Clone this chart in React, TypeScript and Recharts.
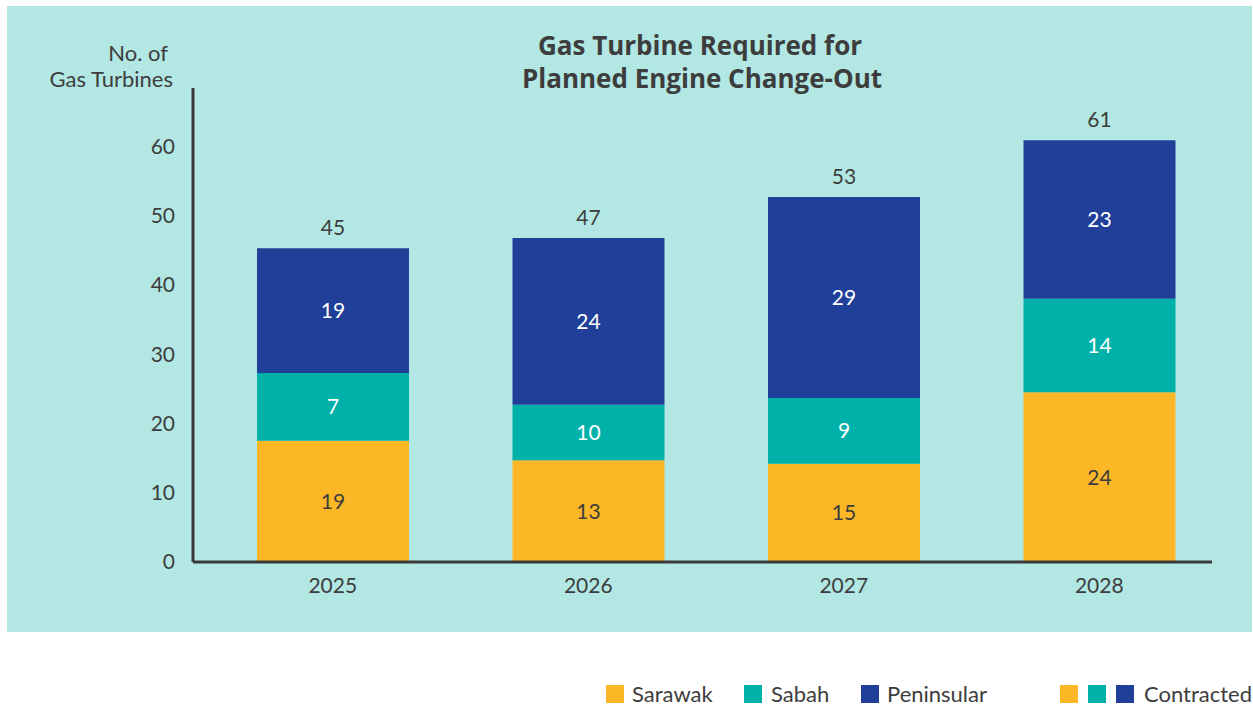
import React from "react";
import { BarChart, Bar, XAxis, YAxis, LabelList } from "recharts";

// categories
const years = ["2025", "2026", "2027", "2028"];

// segment heights as drawn in the picture
const sarawak = [17.5, 14.7, 14.2, 24.5];
const sabah = [9.8, 8.0, 9.5, 13.5];
const peninsular = [18.0, 24.1, 29.0, 22.9];

// printed numbers
const sarawakLabels = [19, 13, 15, 24];
const sabahLabels = [7, 10, 9, 14];
const peninsularLabels = [19, 24, 29, 23];
const totals = [45, 47, 53, 61];

const yTicks = [0, 10, 20, 30, 40, 50, 60];

const data = years.map((year, i) => ({
  year,
  sarawak: sarawak[i],
  sabah: sabah[i],
  peninsular: peninsular[i],
  sarawakLabel: sarawakLabels[i],
  sabahLabel: sabahLabels[i],
  peninsularLabel: peninsularLabels[i],
  total: totals[i],
}));

const FONT = "Lato, 'Open Sans', sans-serif";
const TITLE_FONT = "'Open Sans', Lato, sans-serif";
const TEXT = "#3d3d3d";
const COLORS = { sarawak: "#fbb725", sabah: "#00b1aa", peninsular: "#1f3f98" };

const Swatch = ({ color, left }: { color: string; left: number }) => (
  <div style={{ position: "absolute", left, top: 685, width: 18, height: 18, background: color }} />
);

const LegendText = ({ text, left }: { text: string; left: number }) => (
  <div style={{ position: "absolute", left, top: 681, fontSize: 22, lineHeight: "26px", color: TEXT, fontFamily: FONT }}>
    {text}
  </div>
);

export default function App() {
  return (
    <div style={{ position: "absolute", left: 0, top: 0, width: 1253, height: 706, background: "#fff", fontFamily: FONT }}>
      <div style={{ position: "absolute", left: 7, top: 6, width: 1245, height: 626, background: "#b2e7e3" }} />
      <div style={{ position: "absolute", left: 0, top: 0 }}>
        <BarChart
          width={1253}
          height={706}
          data={data}
          margin={{ top: 88, right: 41, bottom: 114, left: 0 }}
        >
          <text x={700} y={45} textAnchor="middle" dominantBaseline="central" fontSize={26} fontWeight={700} fill={TEXT} fontFamily={TITLE_FONT}>
            Gas Turbine Required for
          </text>
          <text x={702} y={78} textAnchor="middle" dominantBaseline="central" fontSize={26} fontWeight={700} fill={TEXT} fontFamily={TITLE_FONT}>
            Planned Engine Change-Out
          </text>
          <text x={168} y={52} textAnchor="end" dominantBaseline="central" fontSize={22} fill={TEXT} fontFamily={FONT}>
            No. of
          </text>
          <text x={173} y={78} textAnchor="end" dominantBaseline="central" fontSize={22} fill={TEXT} fontFamily={FONT}>
            Gas Turbines
          </text>
          <XAxis
            dataKey="year"
            height={30}
            axisLine={{ stroke: "#3a3a3a", strokeWidth: 3 }}
            tickLine={false}
            tickSize={6}
            tickMargin={10}
            padding={{ left: 12, right: -15 }}
            tick={{ fill: TEXT, fontSize: 21, fontFamily: FONT }}
          />
          <YAxis
            width={193}
            domain={[0, 68.45]}
            ticks={yTicks}
            axisLine={{ stroke: "#3a3a3a", strokeWidth: 3 }}
            tickLine={false}
            tickSize={6}
            tickMargin={12}
            tick={{ fill: TEXT, fontSize: 21, fontFamily: FONT }}
          />
          <Bar dataKey="sarawak" stackId="a" fill={COLORS.sarawak} barSize={152} isAnimationActive={false}>
            <LabelList dataKey="sarawakLabel" position="center" fill={TEXT} fontSize={21} fontFamily={FONT} />
          </Bar>
          <Bar dataKey="sabah" stackId="a" fill={COLORS.sabah} barSize={152} isAnimationActive={false}>
            <LabelList dataKey="sabahLabel" position="center" fill="#ffffff" fontSize={21} fontFamily={FONT} />
          </Bar>
          <Bar dataKey="peninsular" stackId="a" fill={COLORS.peninsular} barSize={152} isAnimationActive={false}>
            <LabelList dataKey="peninsularLabel" position="center" fill="#ffffff" fontSize={21} fontFamily={FONT} />
            <LabelList dataKey="total" position="top" offset={13} fill={TEXT} fontSize={21} fontFamily={FONT} />
          </Bar>
        </BarChart>
      </div>
      <Swatch color={COLORS.sarawak} left={606} />
      <LegendText text="Sarawak" left={632} />
      <Swatch color={COLORS.sabah} left={744} />
      <LegendText text="Sabah" left={771} />
      <Swatch color={COLORS.peninsular} left={861} />
      <LegendText text="Peninsular" left={887} />
      <Swatch color={COLORS.sarawak} left={1060} />
      <Swatch color={COLORS.sabah} left={1088} />
      <Swatch color={COLORS.peninsular} left={1116} />
      <LegendText text="Contracted" left={1144} />
    </div>
  );
}
